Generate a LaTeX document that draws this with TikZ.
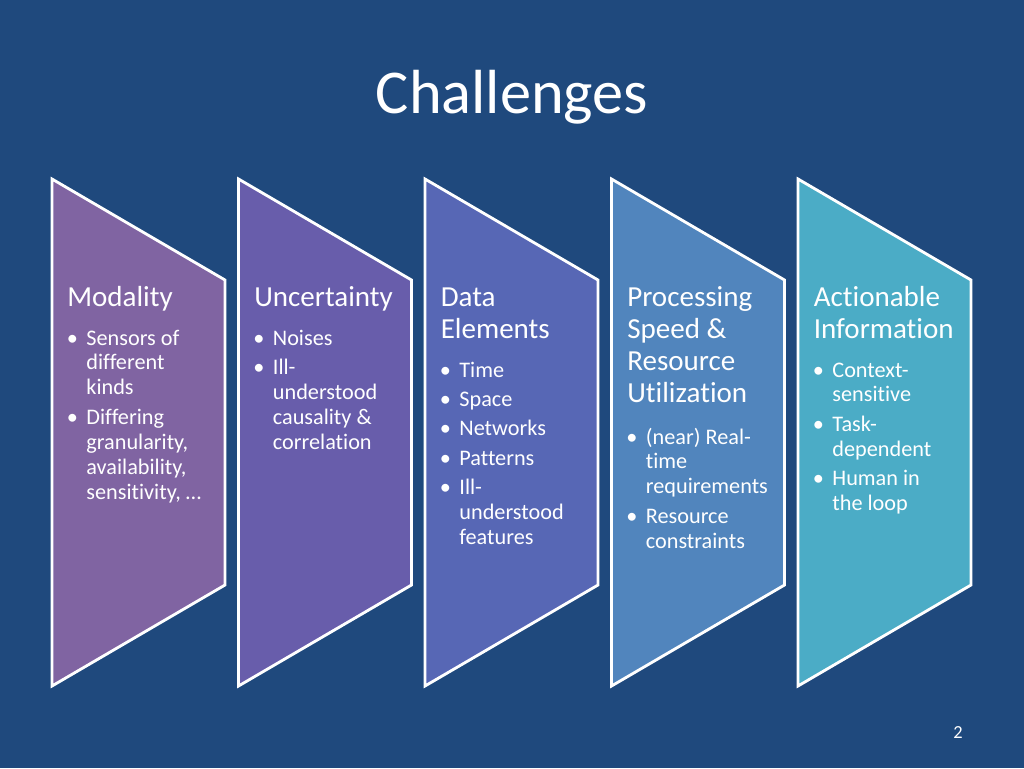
\documentclass[tikz,border=0pt]{standalone}
\usepackage{fontspec}
\setmainfont{Carlito}[Ligatures={TeX,NoCommon}]
\usepackage{tikz}

\definecolor{slideblue}{RGB}{31,73,125}
\definecolor{colA}{RGB}{128,100,162}
\definecolor{colB}{RGB}{104,93,171}
\definecolor{colC}{RGB}{87,103,181}
\definecolor{colD}{RGB}{81,133,189}
\definecolor{colE}{RGB}{75,172,198}

\begin{document}
\begin{tikzpicture}[x=0.0248047cm, y=-0.0248047cm,
    colbox/.style={draw=white, line width=2pt, line join=miter},
    head/.style={anchor=base west, inner sep=0pt, text=white, font=\fontsize{20.5}{22.7}\selectfont},
    list/.style={anchor=base west, inner sep=0pt, text=white, font=\fontsize{15.7}{17.6}\selectfont}]

    \fill[slideblue] (0,0) rectangle (1024,768);

    \node (title) [anchor=base, text=white, font=\fontsize{44}{50}\selectfont] at (512,113) {Challenges};

    % the five arrow shapes
    \draw[colbox, fill=colA] (52,179) -- (225,280) -- (225,585) -- (52,686) -- cycle;
    \draw[colbox, fill=colB] (238.5,179) -- (411.5,280) -- (411.5,585) -- (238.5,686) -- cycle;
    \draw[colbox, fill=colC] (425,179) -- (598,280) -- (598,585) -- (425,686) -- cycle;
    \draw[colbox, fill=colD] (611.5,179) -- (784.5,280) -- (784.5,585) -- (611.5,686) -- cycle;
    \draw[colbox, fill=colE] (798,179) -- (971,280) -- (971,585) -- (798,686) -- cycle;

    \node (head1) [head] at (67,306) {\begin{tabular}[t]{@{}l@{}} Modality \end{tabular}};
    \node (head2) [head] at (254,306) {\begin{tabular}[t]{@{}l@{}} Uncertainty \end{tabular}};
    \node (head3) [head] at (440.5,306) {\begin{tabular}[t]{@{}l@{}} Data\\ Elements \end{tabular}};
    \node (head4) [head] at (627,306) {\begin{tabular}[t]{@{}l@{}} Processing\\ Speed \&\\ Resource\\ Utilization \end{tabular}};
    \node (head5) [head] at (813.5,306) {\begin{tabular}[t]{@{}l@{}} Actionable\\ Information \end{tabular}};

    \node (list1) [list] at (63,345) {\begin{tabular}[t]{@{\hspace{2.5pt}}l@{\hspace{6pt}}l@{}}
        \textbullet & Sensors of\\ & different\\ & kinds\\[3.2pt]
        \textbullet & Differing\\ & granularity,\\ & availability,\\ & sensitivity, … \end{tabular}};
    \node (list2) [list] at (249.5,345) {\begin{tabular}[t]{@{\hspace{2.5pt}}l@{\hspace{6pt}}l@{}}
        \textbullet & Noises\\[3.2pt]
        \textbullet & Ill-\\ & understood\\ & causality \&\\ & correlation \end{tabular}};
    \node (list3) [list] at (436,377) {\begin{tabular}[t]{@{\hspace{2.5pt}}l@{\hspace{6pt}}l@{}}
        \textbullet & Time\\[3.2pt]
        \textbullet & Space\\[3.2pt]
        \textbullet & Networks\\[3.2pt]
        \textbullet & Patterns\\[3.2pt]
        \textbullet & Ill-\\ & understood\\ & features \end{tabular}};
    \node (list4) [list] at (622.5,444) {\begin{tabular}[t]{@{\hspace{2.5pt}}l@{\hspace{6pt}}l@{}}
        \textbullet & (near) Real-\\ & time\\ & requirements\\[3.2pt]
        \textbullet & Resource\\ & constraints \end{tabular}};
    \node (list5) [list] at (809,377) {\begin{tabular}[t]{@{\hspace{2.5pt}}l@{\hspace{6pt}}l@{}}
        \textbullet & Context-\\ & sensitive\\[3.2pt]
        \textbullet & Task-\\ & dependent\\[3.2pt]
        \textbullet & Human in\\ & the loop \end{tabular}};

    \node (pagenum) [anchor=base, text=white, font=\fontsize{13}{15}\selectfont] at (958,738) {2};

\end{tikzpicture}
\end{document}
